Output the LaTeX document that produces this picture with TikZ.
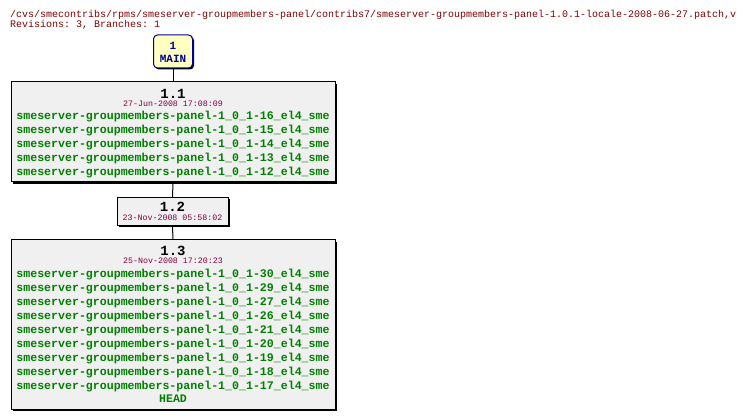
\documentclass[tikz,border=0pt]{standalone}
\usepackage{fontspec}
\setmonofont{Liberation Mono}
\usetikzlibrary{shadows}
\definecolor{hdr}{HTML}{800000}
\definecolor{datec}{HTML}{800040}
\definecolor{tagc}{HTML}{008000}
\definecolor{boxfill}{HTML}{F0F0F0}
\definecolor{mainfill}{HTML}{FFFFC0}
\definecolor{mainc}{HTML}{0000A0}
\tikzset{
  revbox/.style={draw=black, fill=boxfill, line width=1pt, inner sep=0pt,
    drop shadow={shadow xshift=2pt, shadow yshift=-2pt, fill=black, opacity=1}},
  mainbox/.style={draw=mainc, fill=mainfill, line width=1pt, rounded corners=4pt, inner sep=0pt,
    drop shadow={shadow xshift=1.5pt, shadow yshift=-1.5pt, fill=black, opacity=1}},
  hdrtext/.style={anchor=base west, inner sep=0pt, text=hdr, font=\ttfamily\fontsize{10}{12}\selectfont},
  revtext/.style={anchor=base, inner sep=0pt, font=\ttfamily\bfseries\fontsize{14}{16}\selectfont},
  datetext/.style={anchor=base, inner sep=0pt, text=datec, font=\ttfamily\fontsize{8.3}{10}\selectfont},
  tagtext/.style={anchor=base, inner sep=0pt, text=tagc, font=\ttfamily\bfseries\fontsize{11.6}{13}\selectfont},
  maintext/.style={anchor=base, inner sep=0pt, text=mainc, font=\ttfamily\bfseries\fontsize{11}{13}\selectfont},
  link/.style={draw=black, line width=1pt}
}
\begin{document}
\begin{tikzpicture}[x=1pt,y=-1pt]
\useasboundingbox (0,0) rectangle (746,419);
\fill[white] (0,0) rectangle (746,419);
% header
\node[hdrtext] (h1) at (10,18) {/cvs/smecontribs/rpms/smeserver-groupmembers-panel/contribs7/smeserver-groupmembers-panel-1.0.1-locale-2008-06-27.patch,v};
\node[hdrtext] (h2) at (10,28) {Revisions: 3, Branches: 1};
% boxes
\node[mainbox, minimum width=39pt, minimum height=33pt] (main) at (173,51.5) {};
\node[revbox, minimum width=324pt, minimum height=100pt] (r11) at (173,132) {};
\node[revbox, minimum width=111pt, minimum height=28pt] (r12) at (172.5,211.5) {};
\node[revbox, minimum width=324pt, minimum height=169pt] (r13) at (173,324.5) {};
% connectors
\draw[link] (main.south) -- (r11.north);
\draw[link] (r11.south) -- (r12.north);
\draw[link] (r12.south) -- (r13.north);
% main text
\node[maintext] (m1) at (173,49.3) {1};
\node[maintext] (m2) at (173,62.3) {MAIN};
% 1.1
\node[revtext] (t11) at (173,98.3) {1.1};
\node[datetext] (d11) at (173,106.7) {27-Jun-2008 17:08:09};
\foreach \n [count=\i from 0] in {16,15,14,13,12}
  \node[tagtext] (a\i) at (173,119.5+14*\i) {smeserver-groupmembers-panel-1\_0\_1-\n\_el4\_sme};
% 1.2
\node[revtext] (t12) at (172.5,211.7) {1.2};
\node[datetext] (d12) at (172.5,221) {23-Nov-2008 05:58:02};
% 1.3
\node[revtext] (t13) at (173,255.2) {1.3};
\node[datetext] (d13) at (173,263.8) {25-Nov-2008 17:20:23};
\foreach \n [count=\i from 0] in {30,29,27,26,21,20,19,18,17}
  \node[tagtext] (b\i) at (173,277.3+14*\i) {smeserver-groupmembers-panel-1\_0\_1-\n\_el4\_sme};
\node[tagtext] (head) at (173,402.3) {HEAD};
\end{tikzpicture}
\end{document}
